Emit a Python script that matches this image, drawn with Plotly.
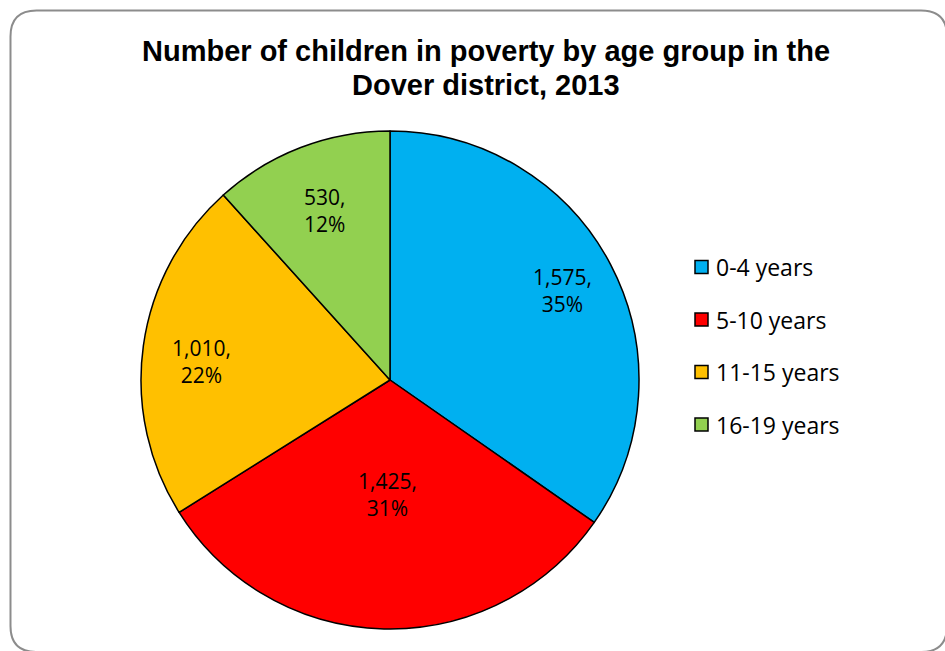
import math
import plotly.graph_objects as go

# Children in poverty, Dover district, 2013
age_groups = ["0-4 years", "5-10 years", "11-15 years", "16-19 years"]
children = [1575, 1425, 1010, 530]
slice_colors = ["#00B0F0", "#FF0000", "#FFC000", "#92D050"]

W, H = 945, 651
CX, CY, R = 390, 380, 249          # pie centre and radius, px
label_radius = [0.78, 0.46, 0.76, 0.73]  # best-fit distance of each data label from centre
label_angle = [0.5, 0.5, 0.47, 0.5]      # position of each label along its slice's sweep

fig = go.Figure()
fig.add_trace(go.Pie(
    labels=age_groups,
    values=children,
    sort=False,
    direction="clockwise",
    rotation=0,
    marker=dict(colors=slice_colors, line=dict(color="#000000", width=1.5)),
    textinfo="none",
    hoverinfo="label+value+percent",
    showlegend=False,
    domain=dict(x=[(CX - R) / W, (CX + R) / W],
                y=[(H - CY - R) / H, (H - CY + R) / H]),
))

# Data labels: "value,<br>percent" placed inside each slice
total = sum(children)
start = 0.0
for v, frac, af in zip(children, label_radius, label_angle):
    share = v / total
    ang = (start + share * af) * 2 * math.pi
    start += share
    px = CX + frac * R * math.sin(ang)
    py = CY - frac * R * math.cos(ang)
    fig.add_annotation(
        x=px / W, y=1 - py / H, xref="paper", yref="paper",
        xanchor="center", yanchor="middle",
        text=f"{v:,},<br>{round(share * 100)}%",
        showarrow=False, align="center",
        font=dict(family="Open Sans", size=21, color="#000000"),
    )

# Legend drawn beside the pie
leg_x, leg_y0, leg_step, sw = 695, 267, 52.5, 13
for i, (name, col) in enumerate(zip(age_groups, slice_colors)):
    yc = leg_y0 + i * leg_step
    fig.add_shape(type="rect", xref="paper", yref="paper",
                  x0=leg_x / W, x1=(leg_x + sw) / W,
                  y0=1 - (yc + sw / 2) / H, y1=1 - (yc - sw / 2) / H,
                  fillcolor=col, line=dict(color="#000000", width=1.5))
    fig.add_annotation(x=(leg_x + 19) / W, y=1 - yc / H, xref="paper", yref="paper",
                       text=name, showarrow=False, xanchor="left", yanchor="middle",
                       font=dict(family="Open Sans", size=23, color="#000000"))

# Chart title, two centred lines
title_lines = ["Number of children in poverty by age group in the", "Dover district, 2013"]
for line, yc in zip(title_lines, [51, 85]):
    fig.add_annotation(
        x=486 / W, y=1 - yc / H, xref="paper", yref="paper",
        xanchor="center", yanchor="middle", showarrow=False,
        text=f"<b>{line}</b>",
        font=dict(family="Liberation Sans", size=29, color="#000000"),
    )

# Rounded chart-area border
x0, y0, x1, y1, rr = 10.5, 10.5, 947, 652, 26
def P(x, y):
    return f"{x / W:.5f},{1 - y / H:.5f}"
path = (f"M {P(x0 + rr, y0)} L {P(x1 - rr, y0)} Q {P(x1, y0)} {P(x1, y0 + rr)} "
        f"L {P(x1, y1 - rr)} Q {P(x1, y1)} {P(x1 - rr, y1)} "
        f"L {P(x0 + rr, y1)} Q {P(x0, y1)} {P(x0, y1 - rr)} "
        f"L {P(x0, y0 + rr)} Q {P(x0, y0)} {P(x0 + rr, y0)} Z")
fig.add_shape(type="path", xref="paper", yref="paper", path=path,
              line=dict(color="#8C8C8C", width=2), fillcolor="rgba(0,0,0,0)")

fig.update_layout(
    width=W, height=H,
    margin=dict(l=0, r=0, t=0, b=0),
    paper_bgcolor="#FFFFFF",
    plot_bgcolor="#FFFFFF",
)

fig.write_html("out.html")
